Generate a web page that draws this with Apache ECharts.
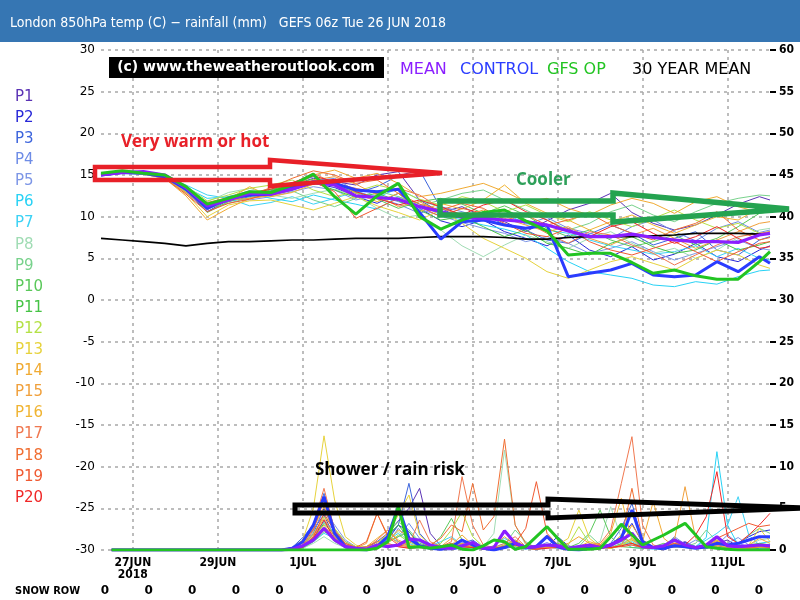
<!DOCTYPE html>
<html><head><meta charset="utf-8">
<script src="https://cdn.jsdelivr.net/npm/echarts@6/dist/echarts.min.js"></script>
<style>html,body{margin:0;padding:0;background:#fff}#c{width:800px;height:600px}</style>
</head><body><div id="c"></div>
<script>
// time (days since 26 JUN 00z)
const tempDays = [0.25,0.75,1.25,1.75,2.25,2.75,3.25,3.75,4.25,4.75,5.25,5.75,6.25,6.75,7.25,7.75,8.25,8.75,9.25,9.75,10.25,10.75,11.25,11.75,12.25,12.75,13.25,13.75,14.25,14.75,15.25,15.75,16.0];
const rainDays = [0.5,4.5,4.75,5.0,5.25,5.5,5.75,6.0,6.25,6.5,6.75,7.0,7.25,7.5,7.75,8.0,8.25,8.5,8.75,9.0,9.25,9.5,9.75,10.0,10.25,10.5,10.75,11.0,11.25,11.5,11.75,12.0,12.25,12.5,12.75,13.0,13.25,13.5,13.75,14.0,14.25,14.5,14.75,15.0,15.25,15.5,15.75,16.0];
const xTickDays = [1,3,5,7,9,11,13,15];
const xTickLabels = ['27JUN\n2018','29JUN','1JUL','3JUL','5JUL','7JUL','9JUL','11JUL'];
const snowRow = ['0','0','0','0','0','0','0','0','0','0','0','0','0','0','0','0'];

// 850hPa temperatures (C)
const meanTemp = [15.0,15.3,15.4,15.0,13.5,11.3,12.0,12.8,12.7,13.3,14.1,13.8,12.5,12.3,12.1,11.2,10.6,9.9,9.8,9.6,9.4,9.0,8.3,7.6,7.6,7.9,7.5,7.2,7.0,7.0,6.9,7.8,8.0];
const controlTemp = [15.0,15.3,15.2,14.8,13.3,11.0,12.2,12.6,12.7,13.5,14.2,14.0,13.2,13.0,13.3,10.5,7.3,9.4,9.6,9.0,8.6,9.0,2.8,3.2,3.6,4.4,3.0,2.8,3.0,4.6,3.4,5.2,4.4];
const gfsOpTemp = [15.2,15.5,15.2,15.0,13.6,11.5,12.2,13.0,12.9,13.8,15.1,12.4,10.3,12.5,14.0,10.0,8.5,9.6,10.5,10.8,9.5,8.3,5.4,5.6,5.6,4.5,3.2,3.6,2.9,2.5,2.5,4.6,5.8];
const climoTemp = [7.4,7.2,7.0,6.8,6.5,6.8,7.0,7.0,7.1,7.2,7.2,7.3,7.4,7.4,7.4,7.5,7.6,7.6,7.6,7.5,7.3,7.3,7.5,7.6,7.6,7.6,7.7,7.8,8.0,8.0,8.0,7.9,7.9];
const tP1 = [15.0,15.2,15.3,14.9,13.2,11.0,12.3,12.9,13.0,13.8,14.6,14.2,13.8,15.0,15.4,12.0,10.5,11.2,10.0,9.4,8.2,9.5,10.8,11.6,12.8,10.5,9.2,8.4,9.0,10.2,11.5,12.4,12.0];
const tP2 = [15.1,15.4,15.2,14.8,13.0,10.6,12.0,12.5,12.6,13.2,14.0,13.5,12.4,11.6,12.8,11.0,9.5,8.8,9.6,8.2,7.4,6.5,7.8,6.0,5.2,6.4,4.8,5.5,6.8,5.2,4.6,6.0,6.5];
const tP3 = [15.0,15.3,15.4,15.0,13.4,11.2,11.8,12.4,13.1,14.0,14.8,13.9,12.8,13.6,14.9,15.6,11.0,9.8,10.4,9.0,8.4,7.2,6.8,7.9,9.0,8.0,6.6,7.4,8.2,6.0,5.4,7.2,7.6];
const tP4 = [14.9,15.2,15.1,14.6,12.9,10.8,12.4,13.1,12.9,13.5,14.3,14.6,13.1,12.2,11.5,10.4,11.2,10.6,9.8,10.3,9.1,9.9,8.6,8.0,7.4,8.8,9.6,8.2,7.1,8.6,9.4,8.1,8.4];
const tP5 = [15.2,15.5,15.4,14.9,13.6,11.6,12.1,12.0,12.4,13.0,13.6,13.2,12.0,12.6,11.8,10.9,10.1,9.3,8.6,8.0,7.0,7.6,6.8,5.6,6.2,7.0,5.8,4.8,5.6,6.4,7.2,6.2,6.0];
const tP6 = [15.1,15.3,15.2,14.8,13.5,12.2,12.4,12.8,12.2,11.8,12.6,12.0,11.5,10.9,12.4,11.5,10.2,9.6,9.0,8.5,7.8,6.2,4.6,3.4,3.0,2.6,1.8,1.6,2.2,1.9,2.8,3.5,3.6];
const tP7 = [15.0,15.2,15.3,14.9,13.8,12.6,12.2,11.3,11.7,12.4,11.5,12.2,13.0,12.3,13.4,12.0,11.1,10.2,9.9,10.4,9.2,8.4,8.0,7.2,6.5,6.0,5.5,5.8,6.5,5.2,6.2,5.0,4.8];
const tP8 = [15.2,15.4,15.3,14.8,13.0,11.8,12.9,13.4,12.6,12.2,12.8,13.3,12.5,11.0,9.8,10.2,8.4,6.5,5.2,6.6,7.8,7.0,6.2,7.4,8.2,6.8,5.6,6.2,5.0,6.0,7.5,8.4,8.6];
const tP9 = [15.0,15.2,15.1,14.6,13.2,11.0,11.6,12.3,12.8,13.1,12.0,11.2,12.2,13.1,12.4,11.3,12.0,12.8,13.2,12.0,10.8,9.6,8.4,9.2,10.6,11.4,10.2,9.4,10.6,11.6,12.2,12.6,12.5];
const tP10 = [15.1,15.3,15.2,14.8,13.4,10.5,11.8,12.6,13.2,13.9,14.5,14.0,12.9,12.1,11.0,11.8,12.2,11.5,10.4,11.3,10.2,8.6,7.6,8.4,7.2,6.4,7.0,7.8,6.6,7.4,8.8,10.4,10.6];
const tP11 = [14.9,15.2,15.3,14.9,13.1,11.3,12.4,12.9,13.3,13.6,14.1,13.2,12.3,12.8,11.9,10.8,9.6,10.0,8.8,7.6,8.4,6.8,6.2,5.4,6.8,7.6,6.4,5.6,6.0,7.2,6.0,6.6,7.0];
const tP12 = [15.0,15.3,15.4,15.0,13.7,11.9,12.6,13.4,13.8,14.4,13.2,12.4,13.0,13.8,13.2,12.1,11.4,12.4,11.8,10.6,11.4,10.2,9.4,10.6,9.6,8.8,9.8,10.8,9.6,8.6,9.2,8.0,8.2];
const tP13 = [15.2,15.4,15.2,14.7,12.8,10.0,11.4,11.9,12.0,11.4,10.8,11.6,12.4,11.3,10.5,9.6,10.8,9.2,7.4,6.2,5.0,3.4,2.6,3.6,4.6,5.2,4.4,3.6,5.0,6.0,5.4,4.2,3.8];
const tP14 = [15.1,15.3,15.1,14.6,12.5,9.6,11.0,12.2,12.6,13.4,15.0,15.6,14.6,15.2,14.0,12.4,12.8,13.4,14.0,13.0,11.8,12.2,11.0,10.2,11.4,12.2,11.6,10.4,11.8,12.4,11.2,10.5,10.8];
const tP15 = [15.0,15.2,15.2,14.7,12.9,10.9,12.0,12.2,12.5,13.2,14.4,14.8,13.9,12.6,11.2,11.8,10.5,10.0,10.8,9.8,9.0,8.2,8.8,7.4,6.6,7.8,8.6,7.4,6.2,7.2,8.2,9.2,9.4];
const tP16 = [15.1,15.3,15.3,14.8,13.4,11.6,12.1,13.6,12.4,12.9,13.9,14.3,12.8,11.8,12.8,10.6,11.6,10.9,12.0,13.8,11.6,10.4,9.6,8.4,9.4,10.2,9.0,8.0,9.0,10.0,9.6,11.0,11.2];
const tP17 = [15.0,15.2,15.2,14.8,13.2,11.2,12.2,12.8,13.0,14.0,15.2,14.0,13.4,12.8,13.4,12.6,11.0,10.2,9.6,10.8,9.4,8.0,6.8,8.2,7.8,6.6,5.6,4.2,5.4,6.6,7.6,8.0,8.2];
const tP18 = [15.1,15.4,15.3,14.9,13.5,11.7,12.3,12.5,13.5,14.6,15.5,15.0,14.0,14.4,12.8,11.5,10.8,11.6,11.0,9.6,10.2,9.0,9.6,10.4,9.0,8.0,7.2,8.4,9.2,10.6,8.4,7.2,7.5];
const tP19 = [15.0,15.3,15.2,14.6,12.7,10.6,11.6,12.1,12.9,13.6,14.2,13.0,9.8,11.0,12.2,11.2,10.0,11.0,10.4,9.2,8.0,7.6,8.6,7.0,6.0,5.4,6.2,7.0,5.8,4.6,5.8,6.8,7.0];
const tP20 = [15.2,15.4,15.3,14.9,13.3,10.9,12.2,12.7,13.3,14.1,14.9,14.2,13.0,12.2,11.4,12.0,11.2,10.2,11.4,12.0,10.6,9.6,8.2,7.6,8.8,9.4,8.0,6.8,7.6,8.8,7.4,6.2,6.4];

// 6-hour rainfall (mm)
const meanRain = [0, 0,0.1, 0.5,1.2,2.6,1.2, 0.4,0.2,0.1,0.6, 0.4,0.6,1.3,1.2, 0.6,0.3,0.2,0.5, 0.9,0.2,0.3,2.3, 0.8,0.3,0.4,0.6, 0.5,0.2,0.4,0.6, 0.3,0.6,1.2,2.0, 0.4,0.3,0.5,1.2, 0.6,0.3,0.6,1.6, 0.5,0.4,0.5,0.6, 0.5];
const controlRain = [0, 0,0.2, 1.0,3.0,6.4,2.0, 0.4,0.1,0,0.4, 1.6,5.2,1.4,0.5, 0.2,0.1,0.4,1.2, 0.6,0.2,0,0.3, 0.8,0.3,0.4,1.6, 0.4,0.1,0,0.2, 0.3,0.6,1.4,4.8, 1.0,0.3,0.2,0.5, 0.4,0.2,0.4,0.8, 0.6,0.8,1.2,1.6, 1.6];
const gfsOpRain = [0, 0,0, 0,0,0,0, 0,0,0,0.2, 1.0,5.2,0.3,0.4, 0.2,0.4,0.6,0.1, 0,0.5,1.2,1.0, 0.1,0.4,1.6,2.8, 1.4,0.1,0.1,0.1, 0.2,1.6,3.1,1.8, 0.6,1.2,1.8,2.5, 3.2,1.8,0.4,0.2, 0.1,0,0,0, 0];
const rP1 = [0, 0,0.2, 1.0,2.5,4.2,1.5, 0.3,0,0.2,1.0, 2.0,3.5,5.0,7.4, 2.0,0.5,0.2,0.4, 0.6,0.2,0,0.3, 0.8,0.4,0.2,0.6, 0.2,0,0.3,0.5, 0.2,0.4,1.2,2.0, 0.8,0.3,0.2,0.6, 1.0,0.4,0.2,0.8, 1.2,0.4,0.2,0.3, 0.2];
const rP2 = [0, 0,0, 0.4,2.0,5.0,2.2, 0.5,0.2,0.1,0.4, 1.2,3.0,2.2,0.6, 0.2,0,0,0.3, 0.8,0.4,0.1,0.4, 1.0,0.3,0.1,0.4, 1.6,0.5,0.2,0.1, 0.3,0.6,1.5,3.2, 0.8,0.2,0,0.5, 0.9,0.3,0.2,0.5, 0.3,0.8,1.6,2.2, 2.4];
const rP3 = [0, 0,0.3, 1.5,3.0,6.8,2.5, 0.6,0.2,0,0.5, 1.5,3.0,8.0,2.0, 0.6,0.2,0.4,0.8, 1.2,0.3,0,0.2, 0.4,0.1,0.6,1.8, 0.7,0.2,0,0.3, 0.2,0.8,2.6,5.6, 1.0,0.3,0.2,0.4, 0.6,0.3,0.5,1.0, 0.4,0.2,0.1,0.2, 0.3];
const rP4 = [0, 0,0.1, 0.6,1.8,3.4,2.4, 1.0,0.3,0.2,0.6, 1.0,1.6,3.2,1.4, 0.5,0.2,0.1,0.3, 0.4,0.2,0.1,0.6, 1.2,0.3,0,0.3, 0.6,0.2,0.1,0.4, 0.6,0.3,0.7,1.4, 0.4,0.2,0.4,1.6, 0.7,0.3,0.2,0.6, 1.8,0.8,0.4,0.3, 0.4];
const rP5 = [0, 0,0, 0.5,2.2,4.8,3.0, 1.2,0.4,0.1,0.3, 0.8,2.6,1.2,0.4, 0.2,0.1,0.3,0.9, 0.4,0.1,0,0.3, 0.6,0.2,0.4,0.9, 0.3,0.1,0.2,0.6, 0.3,0.5,1.1,0.6, 0.2,0.4,0.6,0.3, 0.5,1.2,0.6,0.4, 0.8,1.5,0.6,0.4, 0.5];
const rP6 = [0, 0,0, 0.3,1.2,3.5,2.0, 0.6,0.3,0.4,1.0, 1.6,1.0,0.5,0.3, 0.4,0.2,0.1,0.2, 0.3,0.2,0.5,1.4, 0.7,0.2,0.1,0.3, 0.4,0.2,0.1,0.2, 0.4,0.6,1.0,0.3, 0.2,0.1,0.2,0.6, 0.6,0.4,1.5,11.8, 3.0,0.6,0.4,0.8, 1.0];
const rP7 = [0, 0,0, 0.2,1.0,2.0,1.4, 0.5,0.2,0.3,0.6, 1.2,2.0,0.8,0.3, 0.5,1.0,1.6,0.6, 0.2,0.1,0.3,0.8, 0.4,0.1,0.2,0.4, 0.2,0.1,0.3,0.7, 0.3,0.2,0.5,1.0, 0.4,0.2,0.3,0.5, 0.8,0.4,1.2,2.0, 3.0,6.4,1.8,0.6, 0.7];
const rP8 = [0, 0,0, 0.2,0.8,1.6,0.8, 0.3,0.1,0.2,0.5, 1.4,2.2,1.0,0.4, 0.6,0.4,0.2,0.5, 1.0,0.4,2.0,12.0, 3.0,0.6,0.3,0.4, 0.2,0.1,0.2,0.6, 1.0,5.2,1.4,0.6, 0.4,0.2,0.3,0.8, 0.5,0.2,0.6,1.0, 0.4,0.3,0.6,1.2, 1.4];
const rP9 = [0, 0,0, 0.4,1.4,2.8,1.0, 0.4,0.2,0.1,0.6, 2.0,3.4,2.4,1.0, 0.4,0.2,0.3,0.6, 0.9,0.3,0.2,0.6, 2.4,1.0,0.2,0.4, 0.6,0.2,0.4,1.8, 0.6,0.3,0.8,2.0, 0.4,0.2,0.3,0.5, 0.4,0.8,2.4,1.0, 0.6,0.5,1.8,2.6, 2.0];
const rP10 = [0, 0,0, 0.3,1.0,2.2,1.6, 0.5,0.2,0.2,0.4, 1.0,1.6,2.2,0.8, 0.4,1.6,3.8,1.2, 0.4,0.2,0.1,0.5, 1.0,0.3,0.2,0.6, 0.4,0.3,0.8,2.0, 4.8,1.6,0.4,0.3, 0.2,0.4,0.8,0.4, 0.3,0.2,0.5,1.4, 0.6,0.3,0.2,0.3, 0.2];
const rP11 = [0, 0,0, 0.4,1.4,3.2,1.8, 0.6,0.3,0.1,0.5, 1.8,3.0,1.4,0.5, 0.2,0.1,0.3,0.7, 0.5,0.2,0.1,0.4, 0.6,0.2,0.1,0.3, 0.8,0.3,0.2,0.4, 0.3,0.5,1.6,0.8, 0.4,0.2,0.6,1.4, 0.5,0.2,0.3,0.8, 0.5,0.3,0.6,0.8, 0.6];
const rP12 = [0, 0,0.1, 0.6,2.0,4.0,2.6, 1.0,0.4,0.2,0.3, 0.8,1.8,1.0,0.4, 0.3,0.8,2.4,4.6, 1.6,0.4,0.2,0.5, 0.8,0.3,0.2,0.4, 0.3,0.6,2.8,0.8, 0.4,0.2,0.5,1.2, 0.6,0.3,0.4,1.0, 0.4,0.2,0.5,1.2, 0.5,0.3,0.2,0.3, 0.4];
const rP13 = [0, 0,0.3, 1.2,5.0,13.7,6.0, 1.6,0.6,0.2,0.8, 2.0,4.2,6.6,1.8, 0.6,0.2,0.1,0.4, 0.6,0.3,0.1,0.3, 0.5,0.2,0.1,0.3, 0.6,1.4,4.8,1.4, 0.4,0.2,0.6,1.4, 0.6,0.3,0.2,0.4, 0.3,0.2,0.5,1.0, 0.4,0.2,0.6,2.6, 1.0];
const rP14 = [0, 0,0.2, 0.8,2.6,5.2,2.0, 0.6,0.3,0.1,0.4, 1.0,2.4,1.6,0.6, 0.4,0.2,0.6,1.8, 0.6,0.3,0.1,0.4, 0.6,0.3,0.2,0.6, 0.4,0.8,1.6,0.8, 0.5,0.2,0.6,3.0, 1.0,5.8,1.4,0.4, 0.6,0.3,0.4,1.2, 0.4,0.2,0.6,1.4, 0.8];
const rP15 = [0, 0,0.1, 0.5,1.8,3.8,1.6, 0.4,0.2,0.8,4.4, 1.8,0.8,0.5,0.3, 0.2,0.4,1.4,0.6, 0.3,0.1,0.5,1.6, 0.6,0.2,0.1,0.3, 0.4,0.2,0.3,0.6, 0.4,0.6,1.8,0.8, 0.3,0.2,0.4,1.2, 7.6,1.4,0.6,0.4, 0.3,0.2,0.3,0.4, 0.3];
const rP16 = [0, 0,0, 0.4,1.6,3.0,1.4, 0.5,0.2,0.4,1.4, 2.4,1.2,0.6,0.4, 0.2,0.1,0.3,0.8, 0.4,0.2,0.1,0.6, 1.2,0.4,0.2,0.5, 0.3,0.2,0.4,1.0, 0.6,2.0,6.2,1.2, 0.4,0.2,0.5,0.8, 0.4,0.2,0.3,0.6, 0.3,0.2,0.4,0.5, 0.4];
const rP17 = [0, 0,0.2, 1.0,3.0,7.4,2.4, 0.8,0.3,0.2,1.2, 2.4,1.0,0.6,3.6, 1.0,0.4,1.0,8.8, 3.0,0.6,0.3,0.8, 1.6,0.4,0.2,0.4, 0.6,0.3,0.2,0.6, 0.8,2.4,8.0,13.6, 3.0,0.6,0.3,0.8, 0.6,0.3,0.4,1.0, 0.6,0.4,0.3,0.5, 0.4];
const rP18 = [0, 0,0.1, 0.6,2.4,6.0,2.0, 0.6,0.2,0.4,1.0, 0.8,0.4,0.3,0.5, 0.6,1.4,3.0,2.2, 8.0,2.4,4.0,13.3, 3.0,0.8,0.3,0.6, 0.4,0.2,0.3,0.5, 0.3,0.6,1.4,7.4, 1.2,0.4,0.3,0.6, 0.5,0.3,0.4,0.8, 0.5,0.3,0.2,0.4, 0.3];
const rP19 = [0, 0,0, 0.4,1.6,4.4,2.2, 0.8,0.3,1.0,4.4, 1.6,0.6,0.4,0.3, 0.2,0.4,0.8,0.4, 0.3,0.2,0.1,0.4, 0.8,2.6,8.2,2.0, 0.6,0.3,0.2,0.4, 0.6,0.3,0.4,0.6, 0.3,0.2,0.3,0.8, 0.4,0.3,0.6,1.4, 2.0,2.6,3.2,2.8, 3.0];
const rP20 = [0, 0,0, 0.3,1.4,3.6,1.2, 0.4,0.2,0.1,0.3, 0.6,0.4,0.2,0.3, 0.2,0.1,0.2,0.4, 0.3,0.1,0.2,0.4, 0.6,0.2,0.1,0.2, 0.3,0.1,0.2,0.3, 0.2,0.3,0.5,0.8, 0.3,0.2,0.2,0.4, 0.6,1.8,4.0,9.4, 1.6,0.8,1.8,3.0, 4.4];

const memberNames = ['P1','P2','P3','P4','P5','P6','P7','P8','P9','P10','P11','P12','P13','P14','P15','P16','P17','P18','P19','P20'];
const memberColors = ['#5a32b4','#2828d8','#3c64dc','#6e8ce6','#7d96e6','#28d2f5','#3cd2f5','#a0dcb4','#78d28c','#5ac85a','#46c346','#b4e146','#e6d23c','#f0aa32','#f0a03c','#f0b432','#f07850','#f06e32','#f05a32','#f02828'];
const memberTemps = [tP1,tP2,tP3,tP4,tP5,tP6,tP7,tP8,tP9,tP10,tP11,tP12,tP13,tP14,tP15,tP16,tP17,tP18,tP19,tP20];
const memberRains = [rP1,rP2,rP3,rP4,rP5,rP6,rP7,rP8,rP9,rP10,rP11,rP12,rP13,rP14,rP15,rP16,rP17,rP18,rP19,rP20];

const pair = (xs, ys) => xs.map((x, i) => [x, ys[i]]);
const series = [];
memberNames.forEach((n, i) => {
  series.push({name: n + ' temp', type: 'line', xAxisIndex: 0, yAxisIndex: 0, data: pair(tempDays, memberTemps[i]), symbol: 'none', lineStyle: {color: memberColors[i], width: 1}, z: 2});
  series.push({name: n + ' rain', type: 'line', xAxisIndex: 0, yAxisIndex: 1, data: pair(rainDays, memberRains[i]), symbol: 'none', lineStyle: {color: memberColors[i], width: 1}, z: 2});
});
const main = [
  ['30 YEAR MEAN', climoTemp, null, '#000000', 1.6],
  ['CONTROL', controlTemp, controlRain, '#2a3cff', 3],
  ['MEAN', meanTemp, meanRain, '#8a1eff', 3.2],
  ['GFS OP', gfsOpTemp, gfsOpRain, '#22c422', 3]
];
main.forEach((m, k) => {
  series.push({name: m[0] + ' temp', type: 'line', yAxisIndex: 0, data: pair(tempDays, m[1]), symbol: 'none', lineStyle: {color: m[3], width: m[4]}, z: 3 + k});
  if (m[2]) series.push({name: m[0] + ' rain', type: 'line', yAxisIndex: 1, data: pair(rainDays, m[2]), symbol: 'none', lineStyle: {color: m[3], width: m[4]}, z: 3 + k});
});

const graphics = [
  {type: 'rect', shape: {x: 0, y: 0, width: 800, height: 42}, style: {fill: '#3676b3'}, z: 100},
  {type: 'text', x: 10, y: 23, style: {text: 'London 850hPa temp (C) \u2212 rainfall (mm)   GEFS 06z Tue 26 JUN 2018', fill: '#ffffff', font: '14px "DejaVu Sans Condensed"', verticalAlign: 'middle'}, z: 101},
  {type: 'rect', shape: {x: 109, y: 57, width: 275, height: 21}, style: {fill: '#000000'}, z: 100},
  {type: 'text', x: 246, y: 67.5, style: {text: '(c) www.theweatheroutlook.com', fill: '#ffffff', font: 'bold 14px "DejaVu Sans"', align: 'center', verticalAlign: 'middle'}, z: 101},
  {type: 'text', x: 400, y: 70, style: {text: 'MEAN', fill: '#8a1eff', font: '16px "DejaVu Sans"', verticalAlign: 'middle'}, z: 101},
  {type: 'text', x: 460, y: 70, style: {text: 'CONTROL', fill: '#2a3cff', font: '16px "DejaVu Sans"', verticalAlign: 'middle'}, z: 101},
  {type: 'text', x: 547, y: 70, style: {text: 'GFS OP', fill: '#22c422', font: '16px "DejaVu Sans"', verticalAlign: 'middle'}, z: 101},
  {type: 'text', x: 632, y: 70, style: {text: '30 YEAR MEAN', fill: '#000000', font: '16px "DejaVu Sans"', verticalAlign: 'middle'}, z: 101},
  // annotations
  {type: 'polygon', shape: {points: [[95,167],[270,167],[270,160],[442,173],[270,186],[270,180],[95,180]]}, style: {fill: null, stroke: '#e82028', lineWidth: 4.5}, z: 110},
  {type: 'text', x: 121, y: 142, style: {text: 'Very warm or hot', fill: '#e82028', font: 'bold 17px "Open Sans"', verticalAlign: 'middle'}, z: 110},
  {type: 'polygon', shape: {points: [[440,201],[613,201],[613,193],[789,209],[613,222],[613,215],[440,215]]}, style: {fill: null, stroke: '#24a350', lineWidth: 5.5}, z: 110},
  {type: 'text', x: 516, y: 180, style: {text: 'Cooler', fill: '#2ea05a', font: 'bold 17px "Open Sans"', verticalAlign: 'middle'}, z: 110},
  {type: 'polygon', shape: {points: [[295,505],[548,505],[548,499],[806,508],[548,518],[548,513],[295,513]]}, style: {fill: null, stroke: '#000000', lineWidth: 5}, z: 110},
  {type: 'text', x: 315, y: 470, style: {text: 'Shower / rain risk', fill: '#000000', font: 'bold 17px "Open Sans"', verticalAlign: 'middle'}, z: 110},
  {type: 'text', x: 15, y: 591, style: {text: 'SNOW ROW', fill: '#000000', font: 'bold 11px "DejaVu Sans Condensed"', verticalAlign: 'middle'}, z: 101}
];
memberNames.forEach((n, i) => {
  graphics.push({type: 'text', x: 15, y: 97 + i * 21.1, style: {text: n, fill: memberColors[i], font: '15px "DejaVu Sans"', verticalAlign: 'middle'}, z: 101});
});
snowRow.forEach((s, i) => {
  graphics.push({type: 'text', x: 105 + i * 43.6, y: 591, style: {text: s, fill: '#000000', font: 'bold 12px "DejaVu Sans"', align: 'center', verticalAlign: 'middle'}, z: 101});
});

const chart = echarts.init(document.getElementById('c'), null, {renderer: 'canvas'});
chart.setOption({
  animation: false,
  backgroundColor: '#ffffff',
  grid: {left: 101, right: 30, top: 50, bottom: 50, containLabel: false},
  xAxis: {
    type: 'value', min: 0.25, max: 16,
    axisLine: {show: false},
    axisTick: {show: false, customValues: xTickDays},
    axisLabel: {customValues: xTickDays, formatter: v => xTickLabels[xTickDays.indexOf(v)] || '', color: '#000', fontFamily: 'DejaVu Sans Condensed', fontWeight: 'bold', fontSize: 12, lineHeight: 12, margin: 7},
    splitLine: {show: true, lineStyle: {color: '#a8a8a8', type: [3, 4], width: 1.5}}
  },
  yAxis: [
    {type: 'value', min: -30, max: 30, interval: 5, position: 'left',
     axisLine: {show: false}, axisTick: {show: false},
     axisLabel: {color: '#000', fontFamily: 'DejaVu Sans', fontSize: 12, margin: 6},
     splitLine: {show: true, lineStyle: {color: '#a8a8a8', type: [3, 4], width: 1.5}}},
    {type: 'value', min: 0, max: 60, interval: 5, position: 'right',
     axisLine: {show: false},
     axisTick: {show: true, length: 6, lineStyle: {color: '#000', width: 2}},
     axisLabel: {color: '#000', fontFamily: 'DejaVu Sans Condensed', fontWeight: 'bold', fontSize: 12, margin: 9},
     splitLine: {show: false}}
  ],
  series: series,
  graphic: graphics
});
</script>
</body></html>
